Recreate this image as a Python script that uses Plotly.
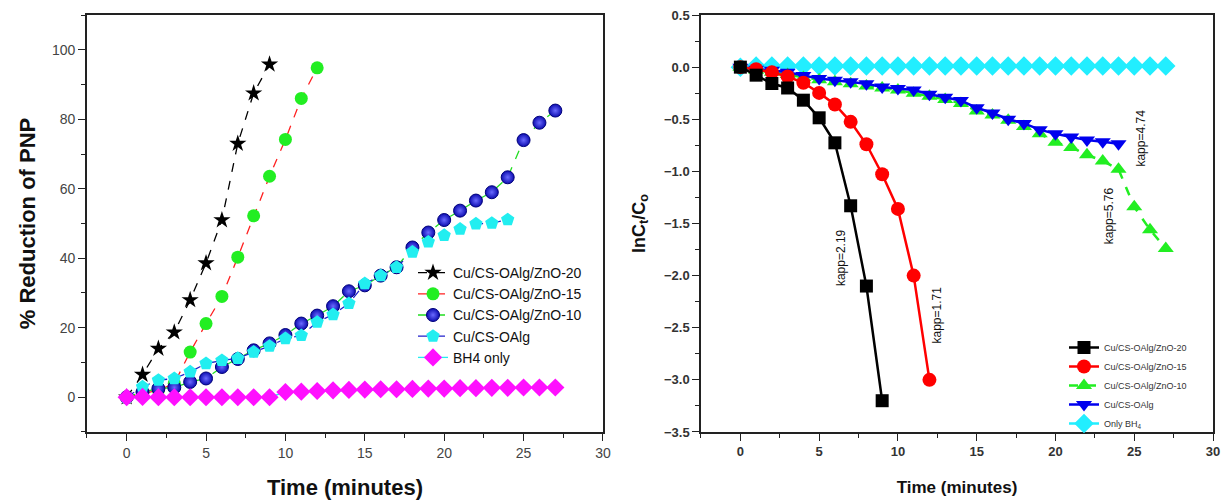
import plotly.graph_objects as go

# ---------------- Left panel data (% reduction of PNP) ----------------
t_zno20 = list(range(0, 10))
r_zno20 = [0, 6.5, 14, 18.7, 28, 38.6, 51, 73, 87.5, 95.8]
t_zno15 = list(range(0, 13))
r_zno15 = [0, 1, 2, 4, 13, 21.2, 29, 40.3, 52.2, 63.6, 74.2, 86, 94.8]
t_zno10 = list(range(0, 28))
r_zno10 = [0, 1.5, 2.5, 2.8, 4.4, 5.4, 8.7, 11, 13.5, 15.5, 17.9, 21.2, 23.5, 26.2,
           30.5, 32.2, 35, 37.4, 43.1, 47.4, 51, 53.7, 56.6, 59, 63.3, 74, 79, 82.5]
t_alg = list(range(0, 25))
r_alg = [0, 3.0, 4.9, 5.4, 7.3, 9.7, 10.6, 11.2, 13, 14.7, 16.9, 17.8, 21.6, 23.8,
         27, 32.7, 35, 37.4, 41.8, 44.7, 46.6, 48.4, 49.9, 50.1, 51.1]
t_bh4 = list(range(0, 28))
r_bh4 = [0, 0.1, 0, 0, 0, 0, 0, 0, 0, 0, 1.5, 1.6, 1.8, 2.0, 2.1, 2.2, 2.3, 2.3,
         2.4, 2.5, 2.5, 2.6, 2.6, 2.7, 2.7, 2.8, 2.8, 2.8]

# ---------------- Right panel data (ln Ct/Co) ----------------
k_t20 = list(range(0, 10))
k_zno20 = [0, -0.077, -0.157, -0.2, -0.317, -0.486, -0.726, -1.33, -2.10, -3.2]
k_t15 = list(range(0, 13))
k_zno15 = [0, -0.02, -0.05, -0.09, -0.15, -0.247, -0.358, -0.525, -0.74, -1.027,
           -1.36, -2.0, -3.0]
k_t10 = list(range(0, 28))
k_zno10 = [0, -0.03, -0.05, -0.07, -0.1, -0.12, -0.14, -0.16, -0.18, -0.2, -0.22,
           -0.25, -0.28, -0.31, -0.35, -0.42, -0.46, -0.51, -0.57, -0.64, -0.72,
           -0.77, -0.84, -0.9, -0.98, -1.34, -1.56, -1.74]
k_talg = list(range(0, 25))
k_alg = [0, -0.02, -0.03, -0.05, -0.08, -0.11, -0.125, -0.14, -0.16, -0.19, -0.205,
         -0.22, -0.26, -0.29, -0.32, -0.39, -0.44, -0.5, -0.54, -0.6, -0.64, -0.67,
         -0.7, -0.715, -0.735]
k_tbh4 = list(range(0, 28))
k_bh4 = [0] + [0.01] * 27

left_names = ["Cu/CS-OAlg/ZnO-20", "Cu/CS-OAlg/ZnO-15", "Cu/CS-OAlg/ZnO-10",
              "Cu/CS-OAlg", "BH4 only"]
right_names = ["Cu/CS-OAlg/ZnO-20", "Cu/CS-OAlg/ZnO-15", "Cu/CS-OAlg/ZnO-10",
               "Cu/CS-OAlg", "Only BH<sub>4</sub>"]

kapp_labels = ["kapp=2.19", "kapp=1.71", "kapp=5.76", "kapp=4.74"]
kapp_x = [6.4, 12.5, 23.4, 25.4]
kapp_y = [-1.83, -2.38, -1.43, -0.68]

FONT = "Liberation Sans, Arial, sans-serif"

fig = go.Figure()

# Left panel traces
fig.add_trace(go.Scatter(x=t_zno20, y=r_zno20, name=left_names[0], mode="lines+markers",
                         line=dict(color="black", width=1.3, dash="dash"),
                         marker=dict(symbol="star", size=13, color="black"),
                         xaxis="x", yaxis="y", legend="legend"))
fig.add_trace(go.Scatter(x=t_zno15, y=r_zno15, name=left_names[1], mode="lines+markers",
                         line=dict(color="#ff2020", width=1.3, dash="dash"),
                         marker=dict(symbol="circle", size=13, color="#22ee22"),
                         xaxis="x", yaxis="y", legend="legend"))
fig.add_trace(go.Scatter(x=t_zno10, y=r_zno10, name=left_names[2], mode="lines+markers",
                         line=dict(color="#22dd22", width=1.3, dash="dash"),
                         marker=dict(symbol="circle", size=13, color="#0c0cb0",
                                     gradient=dict(type="radial", color="#6a6aff"),
                                     line=dict(color="#00007a", width=1)),
                         xaxis="x", yaxis="y", legend="legend"))
fig.add_trace(go.Scatter(x=t_alg, y=r_alg, name=left_names[3], mode="lines+markers",
                         line=dict(color="#2020cc", width=1.3, dash="dash"),
                         marker=dict(symbol="pentagon", size=14, color="#22eef0"),
                         xaxis="x", yaxis="y", legend="legend"))
fig.add_trace(go.Scatter(x=t_bh4, y=r_bh4, name=left_names[4], mode="lines+markers",
                         line=dict(color="#22eef0", width=1.3),
                         marker=dict(symbol="diamond", size=14, color="#ff10ff"),
                         xaxis="x", yaxis="y", legend="legend"))

# Right panel traces
fig.add_trace(go.Scatter(x=k_tbh4, y=k_bh4, name=right_names[4], mode="lines+markers",
                         line=dict(color="#22eeff", width=2.5),
                         marker=dict(symbol="diamond", size=15, color="#22eeff"),
                         xaxis="x2", yaxis="y2", legend="legend2", legendrank=5))
fig.add_trace(go.Scatter(x=k_t10, y=k_zno10, name=right_names[2], mode="lines+markers",
                         line=dict(color="#22ee22", width=2.5, dash="dash"),
                         marker=dict(symbol="triangle-up", size=14, color="#22ee22"),
                         xaxis="x2", yaxis="y2", legend="legend2", legendrank=3))
fig.add_trace(go.Scatter(x=k_talg, y=k_alg, name=right_names[3], mode="lines+markers",
                         line=dict(color="#0000ee", width=2.5),
                         marker=dict(symbol="triangle-down", size=14, color="#0000ee"),
                         xaxis="x2", yaxis="y2", legend="legend2", legendrank=4))
fig.add_trace(go.Scatter(x=k_t15, y=k_zno15, name=right_names[1], mode="lines+markers",
                         line=dict(color="#ff0000", width=2.5),
                         marker=dict(symbol="circle", size=14, color="#ff0000"),
                         xaxis="x2", yaxis="y2", legend="legend2", legendrank=2))
fig.add_trace(go.Scatter(x=k_t20, y=k_zno20, name=right_names[0], mode="lines+markers",
                         line=dict(color="black", width=2.5),
                         marker=dict(symbol="square", size=13, color="black"),
                         xaxis="x2", yaxis="y2", legend="legend2", legendrank=1))

annotations = []
for txt, ax_, ay_ in zip(kapp_labels, kapp_x, kapp_y):
    annotations.append(dict(text=txt, x=ax_, y=ay_, xref="x2", yref="y2",
                            showarrow=False, textangle=-90,
                            font=dict(family=FONT, size=12, color="#111")))

axis_common = dict(showline=True, linecolor="#222", linewidth=1.5, mirror=True,
                   ticks="outside", ticklen=7, tickwidth=1.3, tickcolor="#222",
                   showgrid=False, zeroline=False, automargin=False)

fig.update_layout(
    width=1230, height=504,
    margin=dict(l=0, r=0, t=0, b=0, autoexpand=False),
    paper_bgcolor="white", plot_bgcolor="white",
    showlegend=True,
    xaxis=dict(domain=[0.0707, 0.4902], range=[-2.5, 30], tick0=0, dtick=5,
               minor=dict(dtick=2.5, ticks="outside", ticklen=4, tickcolor="#222"),
               tickfont=dict(family=FONT, size=14, color="#444"),
               title=dict(text="<b>Time (minutes)</b>", standoff=20,
                          font=dict(family=FONT, size=22, color="#111")),
               **axis_common),
    yaxis=dict(domain=[0.1429, 0.9702], range=[-10, 110], tick0=0, dtick=20,
               minor=dict(dtick=10, ticks="outside", ticklen=4, tickcolor="#222"),
               tickfont=dict(family=FONT, size=14, color="#444"),
               title=dict(text="<b>% Reduction of PNP</b>", standoff=10,
                          font=dict(family=FONT, size=22, color="#111")),
               **axis_common),
    xaxis2=dict(domain=[0.5699, 0.9862], range=[-2.5, 30], tick0=0, dtick=5,
                anchor="y2",
                minor=dict(dtick=2.5, ticks="outside", ticklen=4, tickcolor="#222"),
                tickfont=dict(family=FONT, size=13, color="#333", weight="bold"),
                title=dict(text="<b>Time (minutes)</b>", standoff=23,
                           font=dict(family=FONT, size=17, color="#111")),
                **axis_common),
    yaxis2=dict(domain=[0.1429, 0.9702], range=[-3.5, 0.5], tick0=0, dtick=0.5,
                anchor="x2", tickformat=".1f",
                minor=dict(dtick=0.25, ticks="outside", ticklen=4, tickcolor="#222"),
                tickfont=dict(family=FONT, size=13, color="#333", weight="bold"),
                title=dict(text="<b>lnC<sub>t</sub>/C<sub>o</sub></b>", standoff=14,
                           font=dict(family=FONT, size=18, color="#111")),
                **axis_common),
    legend=dict(x=413 / 1230, y=1 - 257 / 504, xanchor="left", yanchor="top",
                bgcolor="rgba(0,0,0,0)", font=dict(family=FONT, size=14, color="#111"),
                tracegroupgap=0, itemwidth=30),
    legend2=dict(x=1064 / 1230, y=1 - 333 / 504, xanchor="left", yanchor="top",
                 bgcolor="rgba(0,0,0,0)", font=dict(family=FONT, size=9, color="#333"),
                 tracegroupgap=0, itemwidth=30, traceorder="normal"),
    annotations=annotations,
)

fig.write_html("out.html")
